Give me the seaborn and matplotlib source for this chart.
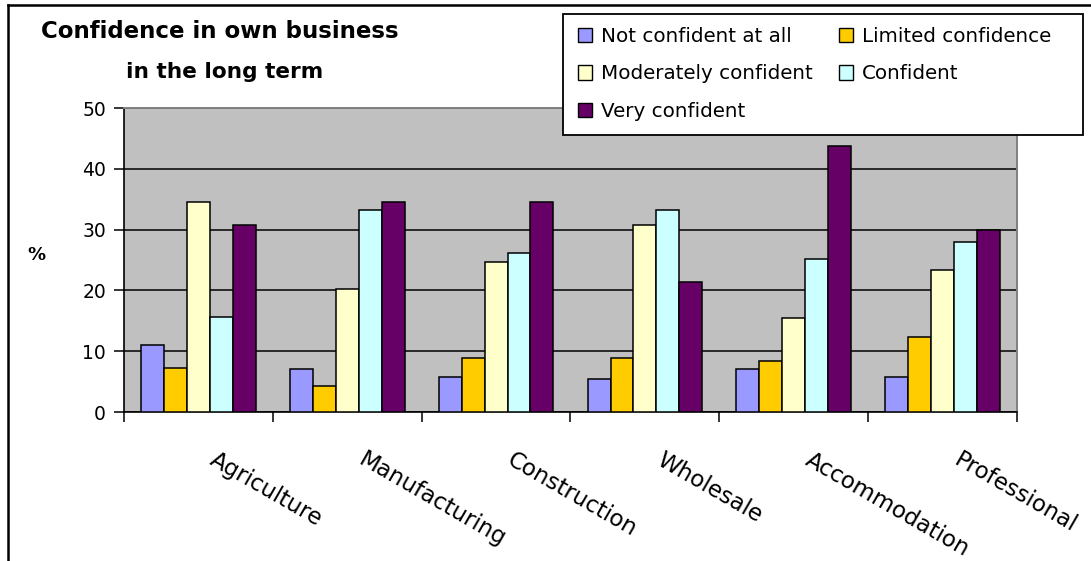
import matplotlib
matplotlib.use("Agg")
import matplotlib.pyplot as plt
import matplotlib.transforms as mtransforms
from matplotlib.lines import Line2D
from matplotlib.patches import Patch, Rectangle
import seaborn as sns
import pandas as pd

sectors = ["Agriculture", "Manufacturing", "Construction", "Wholesale", "Accommodation", "Professional"]
levels = ["Not confident at all", "Limited confidence", "Moderately confident", "Confident", "Very confident"]
not_confident = [11.1, 7.0, 5.8, 5.5, 7.0, 5.8]
limited = [7.3, 4.3, 8.8, 8.8, 8.4, 12.3]
moderately = [34.6, 20.2, 24.7, 30.8, 15.5, 23.4]
confident = [15.7, 33.2, 26.1, 33.2, 25.2, 27.9]
very = [30.8, 34.6, 34.6, 21.4, 43.8, 30.0]
y_ticks = [0, 10, 20, 30, 40, 50]
colors = ["#9999FF", "#FFCC00", "#FFFFCC", "#CCFFFF", "#660066"]

series = [not_confident, limited, moderately, confident, very]
rows = []
for lvl, vals in zip(levels, series):
    for s, v in zip(sectors, vals):
        rows.append({"sector": s, "level": lvl, "value": v})
df = pd.DataFrame(rows)

plt.rcParams["font.family"] = ["DejaVu Sans"]

W, H = 1091, 561
fig = plt.figure(figsize=(W / 100, H / 100), dpi=100)
fig.patch.set_facecolor("white")
ax = fig.add_axes([124 / W, 1 - 412 / H, (1017 - 124) / W, (412 - 108) / H])

sns.barplot(data=df, x="sector", y="value", hue="level", order=sectors, hue_order=levels,
            palette=colors, width=0.77, saturation=1, edgecolor="black", linewidth=1.1,
            errorbar=None, legend=False, ax=ax, zorder=3)

ax.set_facecolor("#C0C0C0")
ax.set_ylim(0, 50)
ax.set_xlim(-0.5, 5.5)
ax.set_yticks(y_ticks)
ax.set_yticklabels([str(t) for t in y_ticks], fontsize=13.5)
ax.yaxis.grid(True, color="black", linewidth=1.1)
ax.xaxis.grid(False)
ax.set_axisbelow(True)
ax.set_xlabel("")
ax.set_ylabel("")

ax.set_xticks(range(len(sectors)))
ax.set_xticklabels(sectors, rotation=-30, ha="left", va="top", rotation_mode="anchor", fontsize=16.5)
ax.tick_params(axis="x", which="major", length=0, pad=0)
ax.set_xticks([i - 0.5 for i in range(len(sectors) + 1)], minor=True)
ax.tick_params(axis="x", which="minor", length=7, width=1.1, color="black", direction="out")
ax.tick_params(axis="y", which="major", length=7, width=1.1, color="black", direction="out", pad=6)
offset = mtransforms.ScaledTranslation(19 / 100, -36 / 100, fig.dpi_scale_trans)
for lab in ax.get_xticklabels():
    lab.set_transform(lab.get_transform() + offset)

for side in ["left", "bottom"]:
    ax.spines[side].set_color("black")
    ax.spines[side].set_linewidth(1.2)
for side in ["top", "right"]:
    ax.spines[side].set_color("#808080")
    ax.spines[side].set_linewidth(1.4)

# legend box
fig.add_artist(Rectangle((563 / W, 1 - 135 / H), (1083 - 563) / W, (135 - 14) / H,
                         transform=fig.transFigure, facecolor="white", edgecolor="black",
                         linewidth=1.3, zorder=4))
handles = [Patch(facecolor=c, edgecolor="black", linewidth=1) for c in colors]
order = [0, 2, 4, 1, 3]
leg = fig.legend([handles[i] for i in order], [levels[i] for i in order],
                 loc="upper left", bbox_to_anchor=(578 / W, 1 - 27 / H), ncol=2,
                 frameon=False, fontsize=14.3,
                 handlelength=0.72, handleheight=0.72, handletextpad=0.45,
                 columnspacing=1.3, labelspacing=0.93, borderpad=0, borderaxespad=0)
leg.set_zorder(5)

fig.text(220 / W, 1 - 32 / H, "Confidence in own business", ha="center", va="center",
         fontsize=16.5, fontweight="bold")
fig.text(224.5 / W, 1 - 72 / H, "in the long term", ha="center", va="center",
         fontsize=15.6, fontweight="bold")
fig.text(36 / W, 1 - 255 / H, "%", ha="center", va="center", fontsize=13, fontweight="bold")

fig.add_artist(Line2D([8 / W, 1], [1 - 5 / H, 1 - 5 / H], transform=fig.transFigure,
                      color="black", linewidth=1.8))
fig.add_artist(Line2D([8 / W, 8 / W], [0, 1 - 5 / H], transform=fig.transFigure,
                      color="black", linewidth=1.8))

fig.savefig("out.png", dpi=100)
